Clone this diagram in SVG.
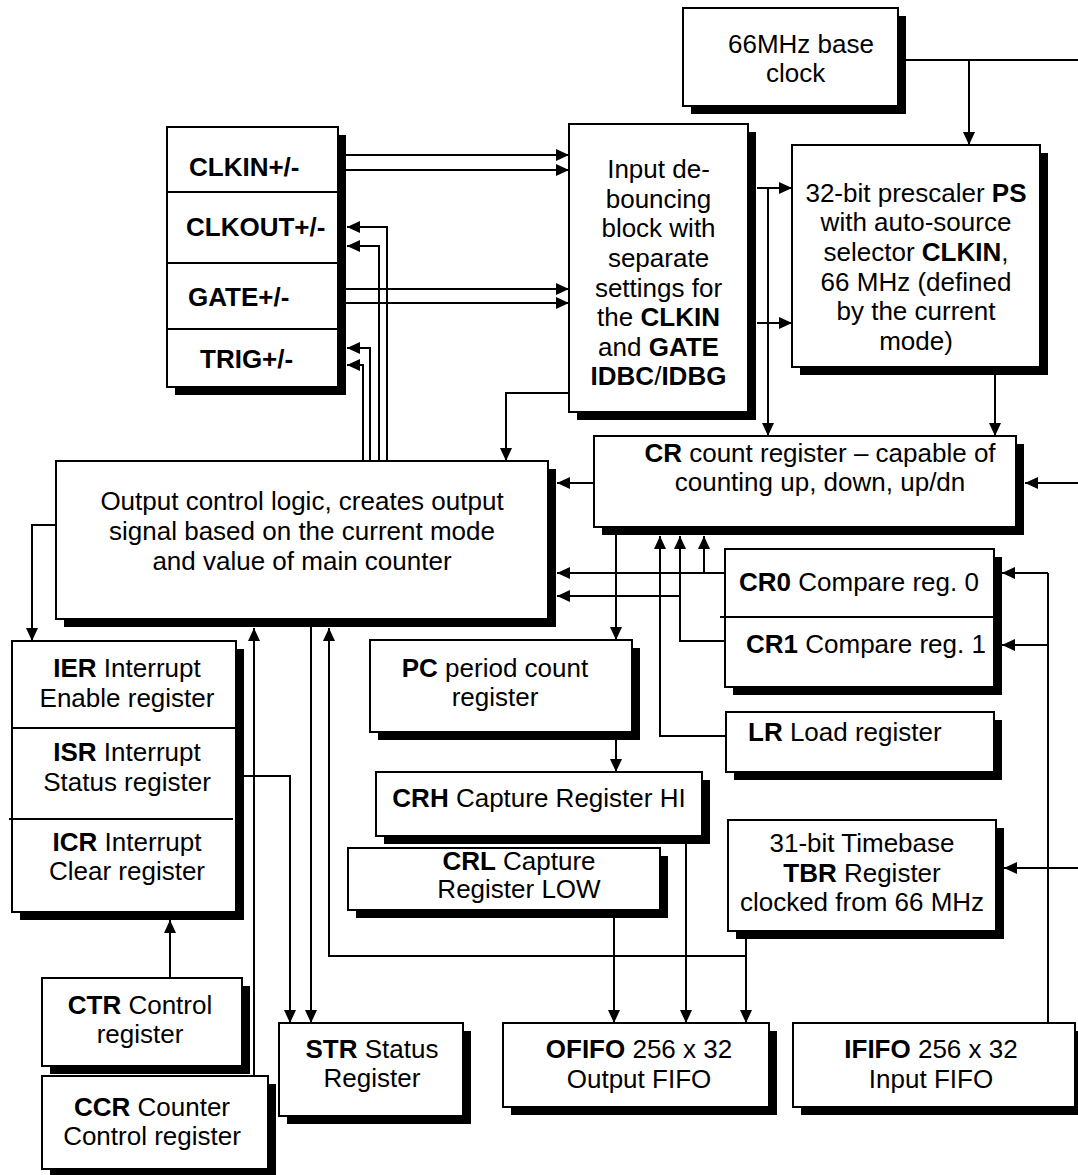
<svg xmlns="http://www.w3.org/2000/svg" width="1078" height="1175" viewBox="0 0 1078 1175">
<style>
.sh{fill:#000}
.bx{fill:#fff;stroke:#000;stroke-width:2}
.dv{stroke:#000;stroke-width:2}
text{font-family:"Liberation Sans",Arial,Helvetica,sans-serif;font-size:26px;fill:#000}
.c{text-anchor:middle}
.b{font-weight:bold}
.ln{fill:none;stroke:#000;stroke-width:2}
.ar{marker-end:url(#ah)}
</style>
<defs>
<marker id="ah" markerUnits="userSpaceOnUse" markerWidth="14" markerHeight="12" refX="13" refY="6" orient="auto"><path d="M0,0 L13,6 L0,12 Z" fill="#000"/></marker>
</defs>
<rect width="1078" height="1175" fill="#fff"/>

<g id="connectors">
<path class="ln ar" d="M346,155 H569"/>
<path class="ln ar" d="M346,170 H569"/>
<path class="ln ar" d="M346,289 H569"/>
<path class="ln ar" d="M346,303 H569"/>
<path class="ln ar" d="M387,461 V227 H347"/>
<path class="ln ar" d="M379,461 V246 H347"/>
<path class="ln ar" d="M370,461 V348 H347"/>
<path class="ln ar" d="M363,461 V365 H347"/>
<path class="ln" d="M906,60 H1078"/>
<path class="ln ar" d="M969,60 V145"/>
<path class="ln ar" d="M757,188 H792"/>
<path class="ln ar" d="M757,323 H792"/>
<path class="ln ar" d="M768,188 V436"/>
<path class="ln ar" d="M995,375 V436"/>
<path class="ln ar" d="M569,393 H506 V461"/>
<path class="ln ar" d="M1078,483 H1025"/>
<path class="ln ar" d="M594,483 H557"/>
<path class="ln ar" d="M616,535 V640"/>
<path class="ln ar" d="M616,740 V772"/>
<path class="ln ar" d="M726,573 H557"/>
<path class="ln ar" d="M704,573 V536"/>
<path class="ln ar" d="M726,641 H680 V536"/>
<path class="ln ar" d="M680,596 H557"/>
<path class="ln ar" d="M726,736 H660 V536"/>
<path class="ln" d="M1048,1023 V573"/>
<path class="ln ar" d="M1048,573 H1002"/>
<path class="ln ar" d="M1048,645 H1002"/>
<path class="ln ar" d="M1078,868 H1004"/>
<path class="ln ar" d="M56,525 H32 V641"/>
<path class="ln ar" d="M244,776 H290 V1023"/>
<path class="ln ar" d="M311,627 V1023"/>
<path class="ln ar" d="M254,1076 V628"/>
<path class="ln ar" d="M170,978 V920"/>
<path class="ln ar" d="M614,918 V1023"/>
<path class="ln ar" d="M686,844 V1023"/>
<path class="ln ar" d="M746,939 V1023"/>
<path class="ln ar" d="M746,956 H329 V628"/>
</g>

<g id="clk66">
<rect class="sh" x="691" y="16" width="215" height="98"/>
<rect class="bx" x="683" y="8" width="215" height="98"/>
<text x="728" y="53">66MHz base</text>
<text x="766" y="82">clock</text>
</g>

<g id="pins">
<rect class="sh" x="175" y="135" width="171" height="260"/>
<rect class="bx" x="167" y="127" width="171" height="260"/>
<line class="dv" x1="167" y1="192" x2="338" y2="192"/>
<line class="dv" x1="167" y1="263" x2="338" y2="263"/>
<line class="dv" x1="167" y1="329" x2="338" y2="329"/>
<text class="b" x="189" y="176">CLKIN+/-</text>
<text class="b" x="186" y="236">CLKOUT+/-</text>
<text class="b" x="188" y="306">GATE+/-</text>
<text class="b" x="200" y="368">TRIG+/-</text>
</g>

<g id="debounce">
<rect class="sh" x="577" y="132" width="179" height="288"/>
<rect class="bx" x="569" y="124" width="179" height="288"/>
<text class="c" x="658.5" y="178">Input de-</text>
<text class="c" x="658.5" y="208">bouncing</text>
<text class="c" x="658.5" y="237">block with</text>
<text class="c" x="658.5" y="267">separate</text>
<text class="c" x="658.5" y="297">settings for</text>
<text class="c" x="658.5" y="326">the <tspan class="b">CLKIN</tspan></text>
<text class="c" x="658.5" y="356">and <tspan class="b">GATE</tspan></text>
<text class="c" x="658.5" y="385"><tspan class="b">IDBC</tspan>/<tspan class="b">IDBG</tspan></text>
</g>

<g id="prescaler">
<rect class="sh" x="800" y="153" width="248" height="222"/>
<rect class="bx" x="792" y="145" width="248" height="222"/>
<text class="c" x="916" y="202">32-bit prescaler <tspan class="b">PS</tspan></text>
<text class="c" x="916" y="231">with auto-source</text>
<text class="c" x="916" y="261">selector <tspan class="b">CLKIN</tspan>,</text>
<text class="c" x="916" y="291">66 MHz (defined</text>
<text class="c" x="916" y="320">by the current</text>
<text class="c" x="916" y="350">mode)</text>
</g>

<g id="cr">
<rect class="sh" x="602" y="444" width="422" height="91"/>
<rect class="bx" x="594" y="436" width="422" height="91"/>
<text class="c" x="820" y="462"><tspan class="b">CR</tspan> count register – capable of</text>
<text class="c" x="820" y="491">counting up, down, up/dn</text>
</g>

<g id="outlogic">
<rect class="sh" x="64" y="469" width="492" height="158"/>
<rect class="bx" x="56" y="461" width="492" height="158"/>
<text class="c" x="302" y="510">Output control logic, creates output</text>
<text class="c" x="302" y="540">signal based on the current mode</text>
<text class="c" x="302" y="570">and value of main counter</text>
</g>

<g id="interrupts">
<rect class="sh" x="20" y="649" width="224" height="271"/>
<rect class="bx" x="12" y="641" width="224" height="271"/>
<line class="dv" x1="12" y1="728" x2="236" y2="728"/>
<line class="dv" x1="9" y1="819" x2="233" y2="819"/>
<text class="c" x="127" y="677"><tspan class="b">IER</tspan> Interrupt</text>
<text class="c" x="127" y="707">Enable register</text>
<text class="c" x="127" y="761"><tspan class="b">ISR</tspan> Interrupt</text>
<text class="c" x="127" y="791">Status register</text>
<text class="c" x="127" y="851"><tspan class="b">ICR</tspan> Interrupt</text>
<text class="c" x="127" y="880">Clear register</text>
</g>

<g id="pc">
<rect class="sh" x="378" y="648" width="262" height="92"/>
<rect class="bx" x="370" y="640" width="262" height="92"/>
<text class="c" x="495" y="677"><tspan class="b">PC</tspan> period count</text>
<text class="c" x="495" y="706">register</text>
</g>

<g id="crh">
<rect class="sh" x="384" y="780" width="326" height="64"/>
<rect class="bx" x="376" y="772" width="326" height="64"/>
<text class="c" x="539" y="807"><tspan class="b">CRH</tspan> Capture Register HI</text>
</g>

<g id="crl">
<rect class="sh" x="356" y="856" width="312" height="62"/>
<rect class="bx" x="348" y="848" width="312" height="62"/>
<text class="c" x="519" y="870"><tspan class="b">CRL</tspan> Capture</text>
<text class="c" x="519" y="898">Register LOW</text>
</g>

<g id="compare">
<rect class="sh" x="733" y="557" width="269" height="138"/>
<rect class="bx" x="725" y="549" width="269" height="138"/>
<line class="dv" x1="720" y1="617" x2="994" y2="617"/>
<text x="739" y="591"><tspan class="b">CR0</tspan> Compare reg. 0</text>
<text x="746" y="653"><tspan class="b">CR1</tspan> Compare reg. 1</text>
</g>

<g id="lr">
<rect class="sh" x="734" y="720" width="268" height="60"/>
<rect class="bx" x="726" y="712" width="268" height="60"/>
<text x="748" y="741"><tspan class="b">LR</tspan> Load register</text>
</g>

<g id="tbr">
<rect class="sh" x="736" y="828" width="268" height="111"/>
<rect class="bx" x="728" y="820" width="268" height="111"/>
<text class="c" x="862" y="852">31-bit Timebase</text>
<text class="c" x="862" y="882"><tspan class="b">TBR</tspan> Register</text>
<text class="c" x="862" y="911">clocked from 66 MHz</text>
</g>

<g id="ctr">
<rect class="sh" x="50" y="986" width="200" height="88"/>
<rect class="bx" x="42" y="978" width="200" height="88"/>
<text class="c" x="140" y="1014"><tspan class="b">CTR</tspan> Control</text>
<text class="c" x="140" y="1043">register</text>
</g>

<g id="ccr">
<rect class="sh" x="50" y="1084" width="226" height="93"/>
<rect class="bx" x="42" y="1076" width="226" height="93"/>
<text class="c" x="152" y="1116"><tspan class="b">CCR</tspan> Counter</text>
<text class="c" x="152" y="1145">Control register</text>
</g>

<g id="str">
<rect class="sh" x="287" y="1031" width="184" height="93"/>
<rect class="bx" x="279" y="1023" width="184" height="93"/>
<text class="c" x="372" y="1058"><tspan class="b">STR</tspan> Status</text>
<text class="c" x="372" y="1087">Register</text>
</g>

<g id="ofifo">
<rect class="sh" x="511" y="1031" width="266" height="84"/>
<rect class="bx" x="503" y="1023" width="266" height="84"/>
<text class="c" x="639" y="1058"><tspan class="b">OFIFO</tspan> 256 x 32</text>
<text class="c" x="639" y="1088">Output FIFO</text>
</g>

<g id="ififo">
<rect class="sh" x="801" y="1031" width="282" height="84"/>
<rect class="bx" x="793" y="1023" width="282" height="84"/>
<text class="c" x="931" y="1058"><tspan class="b">IFIFO</tspan> 256 x 32</text>
<text class="c" x="931" y="1088">Input FIFO</text>
</g>
</svg>
